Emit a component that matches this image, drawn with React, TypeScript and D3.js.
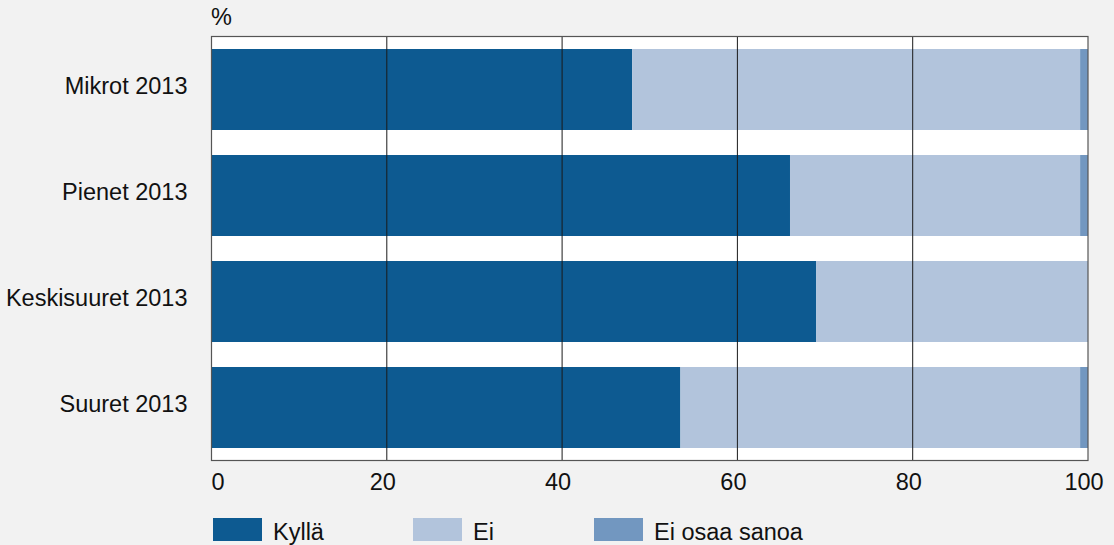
import React from "react";
import * as d3 from "d3";

const categories = ["Mikrot 2013", "Pienet 2013", "Keskisuuret 2013", "Suuret 2013"];
const seriesNames = ["Kyllä", "Ei", "Ei osaa sanoa"];
const kylla = [48.0, 66.0, 69.0, 53.5];
const ei = [51.1, 33.1, 31.0, 45.6];
const eos = [0.9, 0.9, 0.0, 0.9];
const xTicks = [0, 20, 40, 60, 80, 100];
const unitLabel = "%";

const colors = ["#0d5a91", "#b2c4dc", "#7297c0"];

const W = 1114;
const H = 545;
const M = { left: 211.5, right: 1088, top: 36.5, bottom: 460.5 };
const FONT = "'Liberation Sans', Arial, sans-serif";
const FS = 23.5;

export default function App() {
  const x = d3.scaleLinear().domain([0, 100]).range([M.left, M.right]);
  const y = d3
    .scaleBand<string>()
    .domain(categories)
    .range([M.top, M.bottom])
    .paddingInner(0.236)
    .paddingOuter(0.118);

  const rows = categories.map((c, i) => ({ cat: c, kylla: kylla[i], ei: ei[i], eos: eos[i] }));
  const stack = d3.stack<any>().keys(["kylla", "ei", "eos"])(rows);

  const legendX = [213, 413, 594];

  return (
    <svg width={W} height={H} style={{ position: "absolute", left: 0, top: 0 }} fontFamily={FONT}>
      <rect x={0} y={0} width={W} height={H} fill="#f2f2f2" />
      <rect x={M.left} y={M.top} width={M.right - M.left} height={M.bottom - M.top} fill="#ffffff" />
      {stack.map((s, si) =>
        s.map((d, i) => (
          <rect
            key={`${si}-${i}`}
            x={x(d[0])}
            y={y(categories[i])}
            width={Math.max(0, x(d[1]) - x(d[0]))}
            height={y.bandwidth()}
            fill={colors[si]}
          />
        ))
      )}
      {xTicks
        .filter((t) => t > 0 && t < 100)
        .map((t) => (
          <line key={t} x1={x(t)} x2={x(t)} y1={M.top} y2={M.bottom} stroke="#1a1a1a" strokeWidth={1} />
        ))}
      <rect
        x={M.left}
        y={M.top}
        width={M.right - M.left}
        height={M.bottom - M.top}
        fill="none"
        stroke="#555555"
        strokeWidth={1.2}
      />
      {xTicks.map((t) => (
        <text
          key={t}
          x={t === 0 ? x(t) : x(t) - 4}
          y={489.5}
          fontSize={FS}
          textAnchor={t === 0 ? "start" : "middle"}
          fill="#111"
        >
          {t}
        </text>
      ))}
      {categories.map((c) => (
        <text
          key={c}
          x={187.5}
          y={(y(c) as number) + y.bandwidth() / 2 + 4}
          fontSize={FS}
          textAnchor="end"
          fill="#111"
        >
          {c}
        </text>
      ))}
      <text x={211} y={25} fontSize={FS} fill="#111">
        {unitLabel}
      </text>
      {seriesNames.map((n, i) => (
        <g key={n}>
          <rect x={legendX[i]} y={518} width={49} height={23} fill={colors[i]} />
          <text x={legendX[i] + 60} y={540} fontSize={FS} fill="#111">
            {n}
          </text>
        </g>
      ))}
    </svg>
  );
}
